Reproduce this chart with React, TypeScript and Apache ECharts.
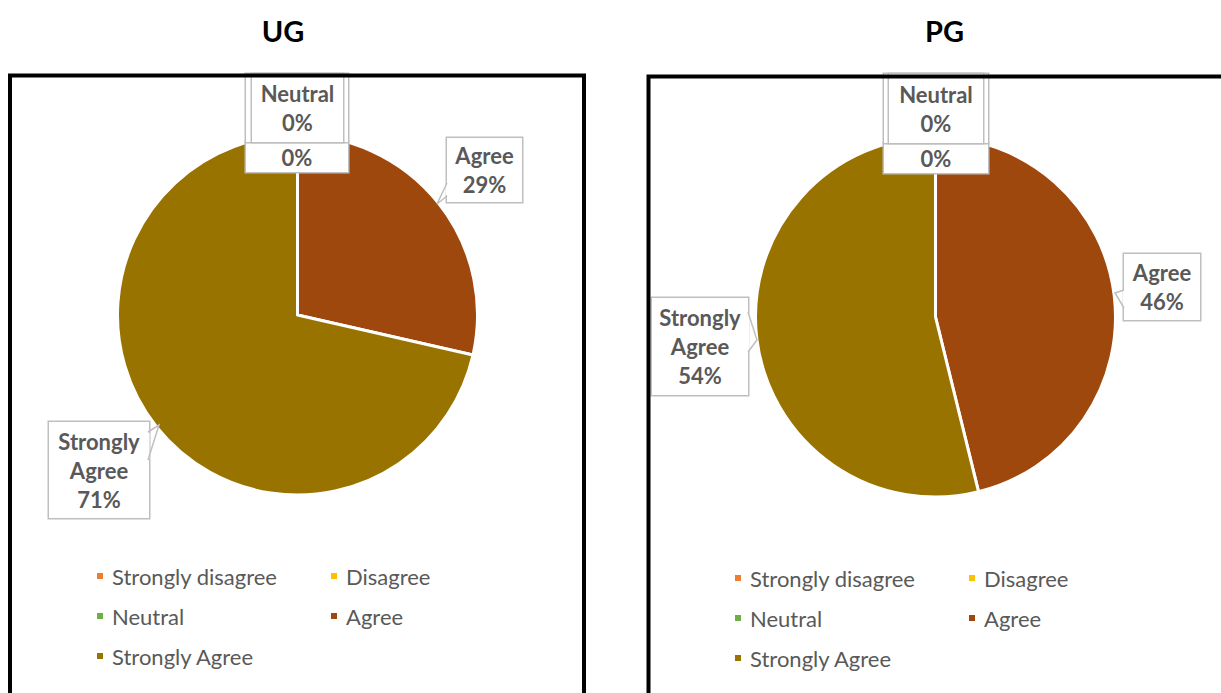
import React, { useEffect, useRef } from "react";
import * as echarts from "echarts";

const categories = ["Strongly disagree", "Disagree", "Neutral", "Agree", "Strongly Agree"];
const ugValues = [0, 0, 0, 2, 5];
const pgValues = [0, 0, 0, 6, 7];
const panelTitles = ["UG", "PG"];
const sliceColors = ["#ED7D31", "#FFC000", "#70AD47", "#9E480E", "#997300"];
// label content mode per category: "value" = percent only, "hidden" = box behind another label, "full" = name + percent
const labelMode = ["value", "hidden", "full", "full", "full"];

const FONT = "Lato";
const LH = 29;

// label boxes per panel: [x0, y0, x1, y1, firstLineCenterY]
const labelBoxes = [
  [
    [246, 142, 348, 172, 154],
    [246, 74, 348, 142, 110],
    [252, 74, 343, 142, 96],
    [447, 138, 522, 202, 158],
    [49, 422, 149, 518, 442],
  ],
  [
    [884, 143, 988, 173, 155],
    [884, 74, 988, 143, 110],
    [889, 74, 983, 143, 97],
    [1124, 254, 1200, 320, 274],
    [652, 298, 748, 395, 320],
  ],
];

const tails = [
  [
    [[447, 183], [437, 204], [447, 196]],
    [[148, 432], [159, 425], [148, 460]],
  ],
  [
    [[1124, 290], [1115, 293], [1124, 308]],
    [[748, 312], [757, 340], [748, 352]],
  ],
];

function labelText(name: string, percent: number, idx: number) {
  const p = Math.round(percent) + "%";
  if (labelMode[idx] === "hidden") return "";
  if (labelMode[idx] === "value") return p;
  return name.split(" ").join("\n") + "\n" + p;
}

function labelBoxStyle(panel: number, i: number) {
  const b = labelBoxes[panel][i];
  const h = b[3] - b[1];
  if (labelMode[i] === "hidden") {
    return { padding: [h, 0, 0, 0], width: b[2] - b[0], lineHeight: 0 };
  }
  const lines = labelText(categories[i], 0, i).split("\n").length;
  const pt = Math.max(0, b[4] - LH / 2 - b[1]);
  const pb = Math.max(0, h - pt - lines * LH);
  return { padding: [pt, 0, pb, 0], width: b[2] - b[0] };
}

function makeSeries(values: number[], panel: number, center: number[]) {
  return {
    type: "pie",
    center,
    radius: 180,
    startAngle: 90,
    clockwise: true,
    avoidLabelOverlap: false,
    itemStyle: { borderColor: "#FFFFFF", borderWidth: 3 },
    emphasis: { disabled: true },
    data: categories.map((c, i) => ({
      name: c,
      value: values[i],
      itemStyle: { color: sliceColors[i] },
      label: labelBoxStyle(panel, i),
    })),
    label: {
      show: true,
      position: "outside",
      formatter: (p: any) => labelText(p.name, p.percent, p.dataIndex),
      fontFamily: FONT,
      fontWeight: "bold",
      fontSize: 22,
      lineHeight: LH,
      color: "#595959",
      backgroundColor: "#FFFFFF",
      borderColor: "#BFBFBF",
      borderWidth: 1.5,
      align: "center",
    },
    labelLine: { show: false },
    labelLayout: (params: any) => {
      const b = labelBoxes[panel][params.dataIndex];
      return {
        x: (b[0] + b[2]) / 2,
        y: (b[1] + b[3]) / 2,
        align: "center",
        verticalAlign: "middle",
      };
    },
  };
}

function legendCol(left: number, top: number, names: string[]) {
  return {
    left,
    top,
    orient: "vertical",
    data: names,
    itemGap: 18,
    itemWidth: 8,
    itemHeight: 8,
    icon: "rect",
    padding: 0,
    selectedMode: false,
    textStyle: {
      fontFamily: FONT,
      fontSize: 22,
      lineHeight: 22,
      color: "#595959",
      padding: [0, 0, 0, 3],
    },
  };
}

export default function App() {
  const ref = useRef<HTMLDivElement>(null);
  useEffect(() => {
    if (!ref.current) return;
    const chart = echarts.init(ref.current, null, { renderer: "svg" });

    const tailGraphics: any[] = [];
    tails.forEach((panelTails) =>
      panelTails.forEach((t) => {
        tailGraphics.push({
          type: "line",
          z: 90,
          shape: { x1: t[0][0], y1: t[0][1] + 1, x2: t[2][0], y2: t[2][1] - 1 },
          style: { stroke: "#FFFFFF", lineWidth: 3 },
        });
        tailGraphics.push({
          type: "polyline",
          z: 91,
          shape: { points: t },
          style: { stroke: "#BFBFBF", lineWidth: 1.5, fill: null },
        });
      })
    );

    chart.setOption({
      animation: false,
      backgroundColor: "#FFFFFF",
      legend: [
        legendCol(95, 565, ["Strongly disagree", "Neutral", "Strongly Agree"]),
        legendCol(329, 565, ["Disagree", "Agree"]),
        legendCol(733, 567, ["Strongly disagree", "Neutral", "Strongly Agree"]),
        legendCol(967, 567, ["Disagree", "Agree"]),
      ],
      series: [makeSeries(ugValues, 0, [297.5, 315]), makeSeries(pgValues, 1, [935.5, 317])],
      graphic: [
        ...tailGraphics,
        {
          type: "rect",
          z: 100,
          shape: { x: 10, y: 75.5, width: 574, height: 700 },
          style: { fill: null, stroke: "#000000", lineWidth: 4 },
        },
        {
          type: "rect",
          z: 100,
          shape: { x: 648.5, y: 76.5, width: 620, height: 700 },
          style: { fill: null, stroke: "#000000", lineWidth: 4 },
        },
        {
          type: "text",
          z: 100,
          x: 283,
          y: 30,
          style: {
            text: panelTitles[0],
            fontFamily: FONT,
            fontWeight: "bold",
            fontSize: 29,
            fill: "#000000",
            align: "center",
            verticalAlign: "middle",
          },
        },
        {
          type: "text",
          z: 100,
          x: 944.5,
          y: 30,
          style: {
            text: panelTitles[1],
            fontFamily: FONT,
            fontWeight: "bold",
            fontSize: 29,
            fill: "#000000",
            align: "center",
            verticalAlign: "middle",
          },
        },
      ],
    });
    return () => chart.dispose();
  }, []);
  return (
    <div
      ref={ref}
      style={{ position: "fixed", left: 0, top: 0, width: 1221, height: 693 }}
    />
  );
}
